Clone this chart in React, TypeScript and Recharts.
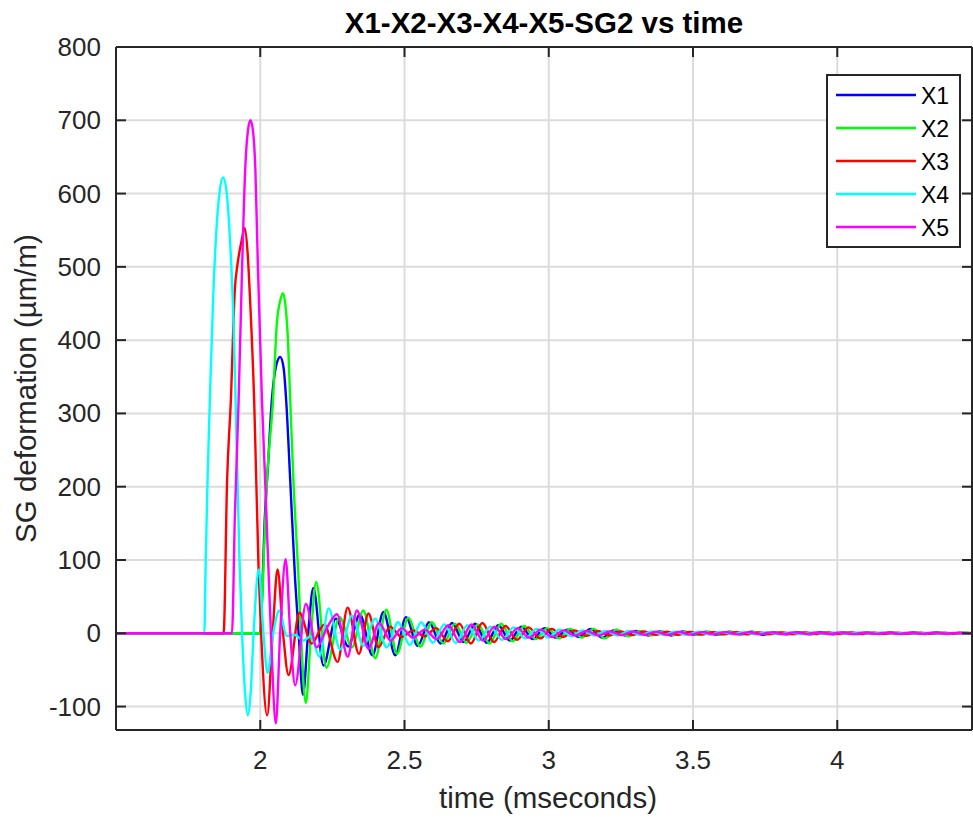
import { LineChart, Line, XAxis, YAxis, CartesianGrid, ReferenceLine } from "recharts";

// chart frame (pixels)
const W = 973;
const H = 817;
const PLOT_LEFT = 116;
const PLOT_TOP = 47;
const PLOT_RIGHT = 972;
const PLOT_BOTTOM = 730;
const PLOT_W = PLOT_RIGHT - PLOT_LEFT;
const PLOT_H = PLOT_BOTTOM - PLOT_TOP;
const TICK_LEN = 10;

const FONT = '"Liberation Sans", Arial, Helvetica, sans-serif';
const INK = "#262626";
const GRID = "#dcdcdc";

const X_DOMAIN = [1.5, 4.467];
const Y_DOMAIN = [-132, 800];
const X_TICKS = [2, 2.5, 3, 3.5, 4];
const Y_TICKS = [-100, 0, 100, 200, 300, 400, 500, 600, 700, 800];

const TITLE = "X1-X2-X3-X4-X5-SG2 vs time";
const X_LABEL = "time (mseconds)";
const Y_LABEL = "SG deformation (µm/m)";

const SERIES_NAMES = ["X1", "X2", "X3", "X4", "X5"];
const SERIES_COLORS = ["#0000ff", "#00ff00", "#ff0000", "#00ffff", "#ff00ff"];

// [time (ms), deformation (µm/m)]
const X1: [number, number][] = [
  [1.5, 0], [2.0, 0], [2.006, 45], [2.015, 150], [2.027, 230], [2.04, 317], [2.055, 365],
  [2.069, 377], [2.081, 362], [2.09, 317], [2.104, 208], [2.121, 72], [2.133, 0],
  [2.148, -84], [2.166, 0], [2.184, 62], [2.219, -44], [2.262, 20], [2.305, -18],
  [2.345, 26], [2.389, -30], [2.427, 29], [2.468, -30], [2.505, 22], [2.546, -17],
  [2.585, 15], [2.625, -14], [2.665, 14], [2.705, -12], [2.745, 13], [2.785, -13],
  [2.825, 11], [2.865, -10], [2.905, 9], [2.945, -8], [2.985, 7], [3.025, -6], [3.065, 5],
  [3.105, -5], [3.145, 6], [3.185, -6], [3.225, 4], [3.265, -3], [3.305, 3], [3.345, -3],
  [3.385, 2.5], [3.425, -3], [3.465, 2.5], [3.505, -2], [3.545, 2], [3.585, -2], [3.625, 2],
  [3.665, -1.5], [3.705, 2], [3.745, -2], [3.785, 1.5], [3.825, -1.5], [3.865, 1.5],
  [3.905, -1.5], [3.945, 1.5], [3.985, -1.5], [4.025, 1.2], [4.065, -1.2], [4.105, 1.2],
  [4.145, -1], [4.185, 1], [4.225, -1], [4.265, 1], [4.305, -1], [4.345, 1], [4.385, -1],
  [4.425, 0.8], [4.467, 0],
];

const X2: [number, number][] = [
  [1.5, 0], [2.001, 0], [2.008, 60], [2.023, 208], [2.044, 317], [2.058, 426], [2.068, 452],
  [2.079, 464], [2.088, 445], [2.095, 408], [2.104, 317], [2.115, 208], [2.133, 72],
  [2.141, 0], [2.158, -95], [2.176, 0], [2.194, 70], [2.229, -47], [2.275, 22], [2.318, -19],
  [2.357, 31], [2.399, -34], [2.437, 32], [2.474, -28], [2.513, 21], [2.555, -18],
  [2.595, 15], [2.635, -14], [2.675, 13], [2.715, -13], [2.755, 12], [2.795, -14],
  [2.835, 13], [2.875, -11], [2.915, 10], [2.955, -8], [2.995, 7], [3.035, -7], [3.075, 6],
  [3.115, -6], [3.155, 6], [3.195, -7], [3.235, 5], [3.275, -4], [3.315, 3], [3.355, -3],
  [3.395, 2.5], [3.435, -2.5], [3.475, 2], [3.515, -2], [3.555, 2], [3.595, -2], [3.635, 1.8],
  [3.675, -1.5], [3.715, 1.5], [3.755, -1.5], [3.795, 1.5], [3.835, -1.2], [3.875, 1.2],
  [3.915, -1.2], [3.955, 1.2], [3.995, -1], [4.035, 1], [4.075, -1], [4.115, 1], [4.155, -1],
  [4.195, 0.8], [4.235, -0.8], [4.275, 0.8], [4.315, -0.8], [4.355, 0.7], [4.395, -0.7],
  [4.435, 0.6], [4.467, 0],
];

const X3: [number, number][] = [
  [1.5, 0], [1.873, 0], [1.885, 208], [1.898, 317], [1.912, 470], [1.921, 503], [1.935, 535],
  [1.946, 553], [1.956, 520], [1.965, 453], [1.979, 317], [1.994, 90], [2.003, 0],
  [2.024, -112], [2.043, 0], [2.06, 87], [2.079, 0], [2.098, -57], [2.136, 28], [2.178, -14],
  [2.222, 12], [2.268, -39], [2.303, 35], [2.342, -28], [2.375, 27], [2.41, -19], [2.45, 9],
  [2.49, -5], [2.53, 4], [2.57, -4], [2.61, 7], [2.65, -11], [2.69, 13], [2.73, -14],
  [2.77, 14], [2.81, -12], [2.85, 10], [2.89, -9], [2.93, 8], [2.97, -7], [3.01, 6],
  [3.05, -5], [3.09, 4], [3.13, -3.5], [3.17, 3], [3.21, -3], [3.25, 2.5], [3.29, -2.5],
  [3.33, 2.5], [3.37, -2], [3.41, 2], [3.45, -2], [3.49, 1.8], [3.53, -1.8], [3.57, 1.5],
  [3.61, -1.5], [3.65, 1.5], [3.69, -1.5], [3.73, 1.2], [3.77, -1.2], [3.81, 1.2],
  [3.85, -1.2], [3.89, 1.2], [3.93, -1], [3.97, 1], [4.01, -1], [4.05, 1], [4.09, -1],
  [4.13, 0.8], [4.17, -0.8], [4.21, 0.8], [4.25, -0.8], [4.29, 0.8], [4.33, -0.7],
  [4.37, 0.7], [4.41, -0.6], [4.45, 0.5], [4.467, 0],
];

const X4: [number, number][] = [
  [1.5, 0], [1.806, 0], [1.811, 100], [1.818, 220], [1.827, 340], [1.837, 460], [1.848, 550],
  [1.86, 605], [1.871, 622], [1.884, 600], [1.896, 530], [1.907, 430], [1.918, 260],
  [1.928, 100], [1.937, 0], [1.947, -80], [1.957, -112], [1.967, -80], [1.977, 0],
  [1.995, 87], [2.011, 0], [2.025, -54], [2.045, 0], [2.066, 31], [2.092, -4], [2.118, -2],
  [2.15, -10], [2.175, -4], [2.205, -32], [2.237, 34], [2.277, -22], [2.318, 24],
  [2.358, -17], [2.398, 20], [2.438, -19], [2.478, 15], [2.518, -16], [2.558, 15],
  [2.598, -13], [2.638, 12], [2.678, -13], [2.718, 11], [2.758, -10], [2.798, 9], [2.838, -9],
  [2.878, 8], [2.918, -7], [2.958, 6], [2.998, -6], [3.038, 5], [3.078, -4], [3.118, 4],
  [3.158, -3], [3.198, 3], [3.238, -3], [3.278, 3], [3.318, -2.5], [3.358, 2.5], [3.398, -2],
  [3.438, 2], [3.478, -2], [3.518, 2], [3.558, -1.8], [3.598, 1.8], [3.638, -1.5],
  [3.678, 1.5], [3.718, -1.5], [3.758, 1.5], [3.798, -1.5], [3.838, 1.2], [3.878, -1.2],
  [3.918, 1.2], [3.958, -1.2], [3.998, 1], [4.038, -1], [4.078, 1], [4.118, -1], [4.158, 1],
  [4.198, -0.8], [4.238, 0.8], [4.278, -0.8], [4.318, 0.8], [4.358, -0.8], [4.398, 0.6],
  [4.438, -0.6], [4.467, 0],
];

const X5: [number, number][] = [
  [1.5, 0], [1.902, 0], [1.912, 160], [1.925, 317], [1.937, 498], [1.948, 634], [1.957, 685],
  [1.966, 700], [1.975, 685], [1.983, 634], [1.992, 498], [2.006, 317], [2.017, 208],
  [2.037, 0], [2.054, -123], [2.069, 0], [2.088, 101], [2.104, 0], [2.121, -71], [2.158, 40],
  [2.196, -19], [2.232, 8], [2.266, 26], [2.303, -32], [2.335, 31], [2.375, -21], [2.412, 14],
  [2.452, -10], [2.49, 7], [2.53, -6], [2.57, 5], [2.612, -8], [2.652, 11], [2.692, -12],
  [2.732, 12], [2.772, -10], [2.812, 9], [2.852, -8], [2.892, 7], [2.932, -6], [2.972, 5],
  [3.012, -5], [3.052, 4], [3.092, -3], [3.132, 3], [3.172, -3], [3.212, 2.5], [3.252, -2.5],
  [3.292, 2.5], [3.332, -2], [3.372, 2], [3.412, -2], [3.452, 1.8], [3.492, -1.8],
  [3.532, 1.5], [3.572, -1.5], [3.612, 1.5], [3.652, -1.5], [3.692, 1.2], [3.732, -1.2],
  [3.772, 1.2], [3.812, -1.2], [3.852, 1.2], [3.892, -1], [3.932, 1], [3.972, -1], [4.012, 1],
  [4.052, -1], [4.092, 0.8], [4.132, -0.8], [4.172, 0.8], [4.212, -0.8], [4.252, 0.8],
  [4.292, -0.7], [4.332, 0.7], [4.372, -0.6], [4.412, 0.6], [4.452, -0.5], [4.467, 0],
];

const SERIES = [X1, X2, X3, X4, X5].map((pts, i) => ({
  name: SERIES_NAMES[i],
  color: SERIES_COLORS[i],
  data: pts.map(([t, v]) => ({ t, v })),
}));

function XTick({ x, y, payload }: any) {
  return (
    <g>
      <line x1={x} y1={y} x2={x} y2={y - TICK_LEN} stroke={INK} strokeWidth={2} />
      <line x1={x} y1={y - PLOT_H} x2={x} y2={y - PLOT_H + TICK_LEN} stroke={INK} strokeWidth={2} />
      <text x={x} y={y + 39} textAnchor="middle" fontSize={26} fontFamily={FONT} fill={INK}>
        {payload.value}
      </text>
    </g>
  );
}

function YTick({ x, y, payload }: any) {
  return (
    <g>
      <line x1={x} y1={y} x2={x + TICK_LEN} y2={y} stroke={INK} strokeWidth={2} />
      <line x1={x + PLOT_W} y1={y} x2={x + PLOT_W - TICK_LEN} y2={y} stroke={INK} strokeWidth={2} />
      <text x={x - 15} y={y + 9} textAnchor="end" fontSize={26} fontFamily={FONT} fill={INK}>
        {payload.value}
      </text>
    </g>
  );
}

export default function App() {
  const legendTop = 75;
  const rowH = 33;

  return (
    <div style={{ position: "absolute", left: 0, top: 0, width: W, height: H, background: "#fff" }}>
      <LineChart
        width={W}
        height={H}
        margin={{ top: PLOT_TOP, right: W - PLOT_RIGHT, bottom: 0, left: 0 }}
      >
        <CartesianGrid stroke={GRID} strokeWidth={2} />
        <XAxis
          type="number"
          dataKey="t"
          domain={X_DOMAIN}
          ticks={X_TICKS}
          allowDataOverflow
          height={H - PLOT_BOTTOM}
          tickSize={0}
          tickMargin={0}
          tickLine={false}
          axisLine={{ stroke: INK, strokeWidth: 2 }}
          tick={<XTick />}
        />
        <YAxis
          type="number"
          domain={Y_DOMAIN}
          ticks={Y_TICKS}
          allowDataOverflow
          width={PLOT_LEFT}
          tickSize={0}
          tickMargin={0}
          tickLine={false}
          axisLine={{ stroke: INK, strokeWidth: 2 }}
          tick={<YTick />}
        />
        {SERIES.map((s) => (
          <Line
            key={s.name}
            data={s.data}
            dataKey="v"
            name={s.name}
            type="monotone"
            stroke={s.color}
            strokeWidth={2.4}
            strokeLinejoin="round"
            dot={false}
            activeDot={false}
            isAnimationActive={false}
          />
        ))}
        <ReferenceLine y={Y_DOMAIN[1]} stroke={INK} strokeWidth={2} />
        <ReferenceLine x={X_DOMAIN[1]} stroke={INK} strokeWidth={2} />
      </LineChart>

      <svg
        width={W}
        height={H}
        style={{ position: "absolute", left: 0, top: 0, pointerEvents: "none" }}
        fontFamily={FONT}
      >
        <text x={(PLOT_LEFT + PLOT_RIGHT) / 2} y={33} textAnchor="middle" fontSize={29.5} fontWeight="bold" fill="#000">
          {TITLE}
        </text>
        <text x={(PLOT_LEFT + PLOT_RIGHT) / 2 + 4} y={808} textAnchor="middle" fontSize={29.5} fill={INK}>
          {X_LABEL}
        </text>
        <text
          transform={`translate(36, ${(PLOT_TOP + PLOT_BOTTOM) / 2}) rotate(-90)`}
          textAnchor="middle"
          fontSize={29.5}
          fill={INK}
        >
          {Y_LABEL}
        </text>

        <rect x={827} y={legendTop} width={133} height={172} fill="#fff" stroke={INK} strokeWidth={2} />
        {SERIES.map((s, i) => (
          <g key={s.name}>
            <line
              x1={836}
              x2={916}
              y1={legendTop + 20 + i * rowH}
              y2={legendTop + 20 + i * rowH}
              stroke={s.color}
              strokeWidth={2.4}
            />
            <text x={921} y={legendTop + 20 + i * rowH + 9} fontSize={23} fill="#000">
              {s.name}
            </text>
          </g>
        ))}
      </svg>
    </div>
  );
}
